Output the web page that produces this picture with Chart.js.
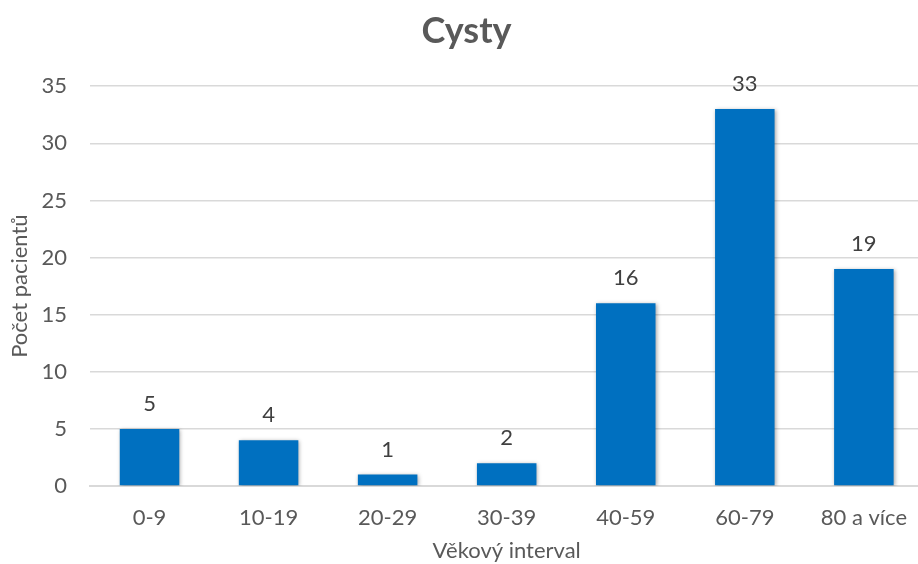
<!DOCTYPE html>
<html>
<head>
<meta charset="utf-8">
<script src="https://cdn.jsdelivr.net/npm/chart.js@4/dist/chart.umd.min.js"></script>
<style>
  html, body { margin: 0; padding: 0; background: #fff; overflow: hidden; }
  #wrap { width: 926px; height: 564px; position: relative; }
</style>
</head>
<body>
<div id="wrap"><canvas id="chart"></canvas></div>
<script>
// ── DATA ──────────────────────────────────────────
const categories = ["0-9", "10-19", "20-29", "30-39", "40-59", "60-79", "80 a více"];
const patients   = [5, 4, 1, 2, 16, 33, 19];
const yTicks     = [0, 5, 10, 15, 20, 25, 30, 35];

const FONT  = "Lato, 'Open Sans', sans-serif";
const GREY  = "#595959";
const BLUE  = "#0070C0";

// soft shadow under bars, like the office chart
const barShadow = {
  id: "barShadow",
  beforeDatasetsDraw(chart) {
    const c = chart.ctx;
    c.save();
    c.shadowColor = "rgba(0,0,0,0.35)";
    c.shadowBlur = 4;
    c.shadowOffsetX = 1;
    c.shadowOffsetY = 1;
  },
  afterDatasetsDraw(chart) {
    chart.ctx.restore();
  }
};

// value labels above each bar
const valueLabels = {
  id: "valueLabels",
  afterDatasetsDraw(chart) {
    const c = chart.ctx;
    const meta = chart.getDatasetMeta(0);
    c.save();
    c.font = `22px ${FONT}`;
    c.fillStyle = "#404040";
    c.textAlign = "center";
    c.textBaseline = "middle";
    meta.data.forEach((bar, i) => {
      c.fillText(String(patients[i]), bar.x, bar.y - 25);
    });
    c.restore();
  }
};

new Chart(document.getElementById("chart").getContext("2d"), {
  type: "bar",
  data: {
    labels: categories,
    datasets: [{
      label: "Počet pacientů",
      data: patients,
      backgroundColor: BLUE,
      borderWidth: 0,
      barPercentage: 1,
      categoryPercentage: 0.5
    }]
  },
  options: {
    responsive: true,
    maintainAspectRatio: false,
    animation: false,
    layout: { padding: { left: 7, right: 0, top: 0, bottom: 0 } },
    scales: {
      x: {
        afterFit: (axis) => { axis.height = 78; },
        grid: { display: false, drawTicks: false },
        border: { display: true, color: "#D9D9D9", width: 2 },
        ticks: { color: GREY, font: { family: FONT, size: 22 }, padding: 19 },
        title: {
          display: true,
          text: "Věkový interval",
          color: GREY,
          font: { family: FONT, size: 22 },
          padding: { top: 6, bottom: 0 }
        }
      },
      y: {
        min: 0,
        max: 35,
        afterFit: (axis) => { axis.width = 83; },
        afterBuildTicks: (axis) => { axis.ticks = yTicks.map(v => ({ value: v })); },
        grid: { color: "#D9D9D9", lineWidth: 1.5, drawTicks: false },
        border: { display: false },
        ticks: { color: GREY, font: { family: FONT, size: 22 }, padding: 23 },
        title: {
          display: true,
          text: "Počet pacientů",
          color: GREY,
          font: { family: FONT, size: 22 },
          padding: { top: 0, bottom: 7 }
        }
      }
    },
    plugins: {
      legend: { display: false },
      tooltip: { enabled: false },
      title: {
        display: true,
        text: "Cysty",
        color: GREY,
        font: { family: FONT, size: 36, weight: "bold" },
        padding: { top: 10, bottom: 33 }
      }
    }
  },
  plugins: [barShadow, valueLabels]
});
</script>
</body>
</html>
